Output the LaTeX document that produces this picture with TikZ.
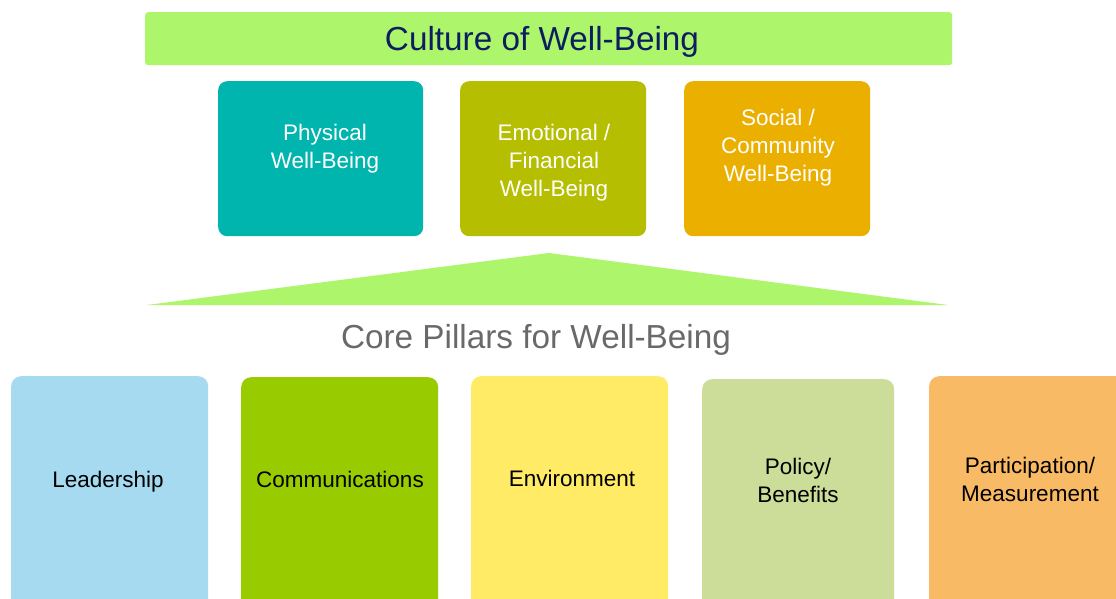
\documentclass[tikz,border=0pt]{standalone}
\usepackage{fontspec}
\setmainfont{Liberation Sans}
\definecolor{bannergreen}{RGB}{173,245,106}
\definecolor{navytext}{RGB}{12,30,96}
\definecolor{pillargray}{RGB}{105,105,105}
\definecolor{tealbox}{RGB}{0,181,173}
\definecolor{olivebox}{RGB}{181,190,0}
\definecolor{amberbox}{RGB}{235,175,0}
\definecolor{skybox}{RGB}{165,218,240}
\definecolor{limebox}{RGB}{153,204,0}
\definecolor{yellowbox}{RGB}{255,235,102}
\definecolor{sagebox}{RGB}{203,221,153}
\definecolor{orangebox}{RGB}{249,186,102}
\tikzset{
  panel/.style={rounded corners=9pt, inner sep=0pt, draw=none, anchor=north west},
  midtext/.style={text=white, align=center, font=\fontsize{22.5}{28}\selectfont},
  basetext/.style={text=black, align=center, font=\fontsize{22.5}{28}\selectfont},
}
\begin{document}
\begin{tikzpicture}[x=1pt, y=-1pt]
\useasboundingbox (0,0) rectangle (1116,599);
\clip (0,0) rectangle (1116,599);
\fill[white] (0,0) rectangle (1116,599);

% banner
\node[panel, rounded corners=3pt, fill=bannergreen, minimum width=807pt, minimum height=53pt] (banner) at (145,12) {};
\node[text=navytext, font=\fontsize{33.3}{38}\selectfont] (bannertxt) at (542,42) {Culture of Well-Being};

% three well-being boxes
\node[panel, fill=tealbox, minimum width=205pt, minimum height=155pt] (phys) at (218,81) {};
\node[panel, fill=olivebox, minimum width=186pt, minimum height=155pt] (emo) at (460,81) {};
\node[panel, fill=amberbox, minimum width=186pt, minimum height=155pt] (soc) at (684,81) {};
\node[midtext] (physt) at (325,149) {Physical\\Well-Being};
\node[midtext] (emot) at (554,163) {Emotional /\\Financial\\Well-Being};
\node[midtext] (soct) at (778,148) {Social /\\Community\\Well-Being};

% wedge
\coordinate (apex) at (549,253);
\coordinate (baseL) at (147,305);
\coordinate (baseR) at (948,305);
\fill[bannergreen] (baseL) -- (apex) -- (baseR) -- cycle;

\node[text=pillargray, font=\fontsize{33.3}{38}\selectfont] (pillars) at (536,340) {Core Pillars for Well-Being};

% pillar boxes
\node[panel, rounded corners=10pt, fill=skybox, minimum width=197pt, minimum height=240pt] (lead) at (11,376) {};
\node[panel, rounded corners=10pt, fill=limebox, minimum width=197pt, minimum height=240pt] (comm) at (241,377) {};
\node[panel, rounded corners=10pt, fill=yellowbox, minimum width=197pt, minimum height=240pt] (env) at (471,376) {};
\node[panel, rounded corners=10pt, fill=sagebox, minimum width=192pt, minimum height=240pt] (pol) at (702,379) {};
\node[panel, rounded corners=10pt, fill=orangebox, minimum width=200pt, minimum height=240pt] (part) at (929,376) {};
\node[basetext] (leadt) at (108,482) {Leadership};
\node[basetext] (commt) at (340,479) {Communications};
\node[basetext] (envt) at (572,478) {Environment};
\node[basetext] (polt) at (798,480) {Policy/\\Benefits};
\node[basetext] (partt) at (1030,479) {Participation/\\Measurement};
\end{tikzpicture}
\end{document}
